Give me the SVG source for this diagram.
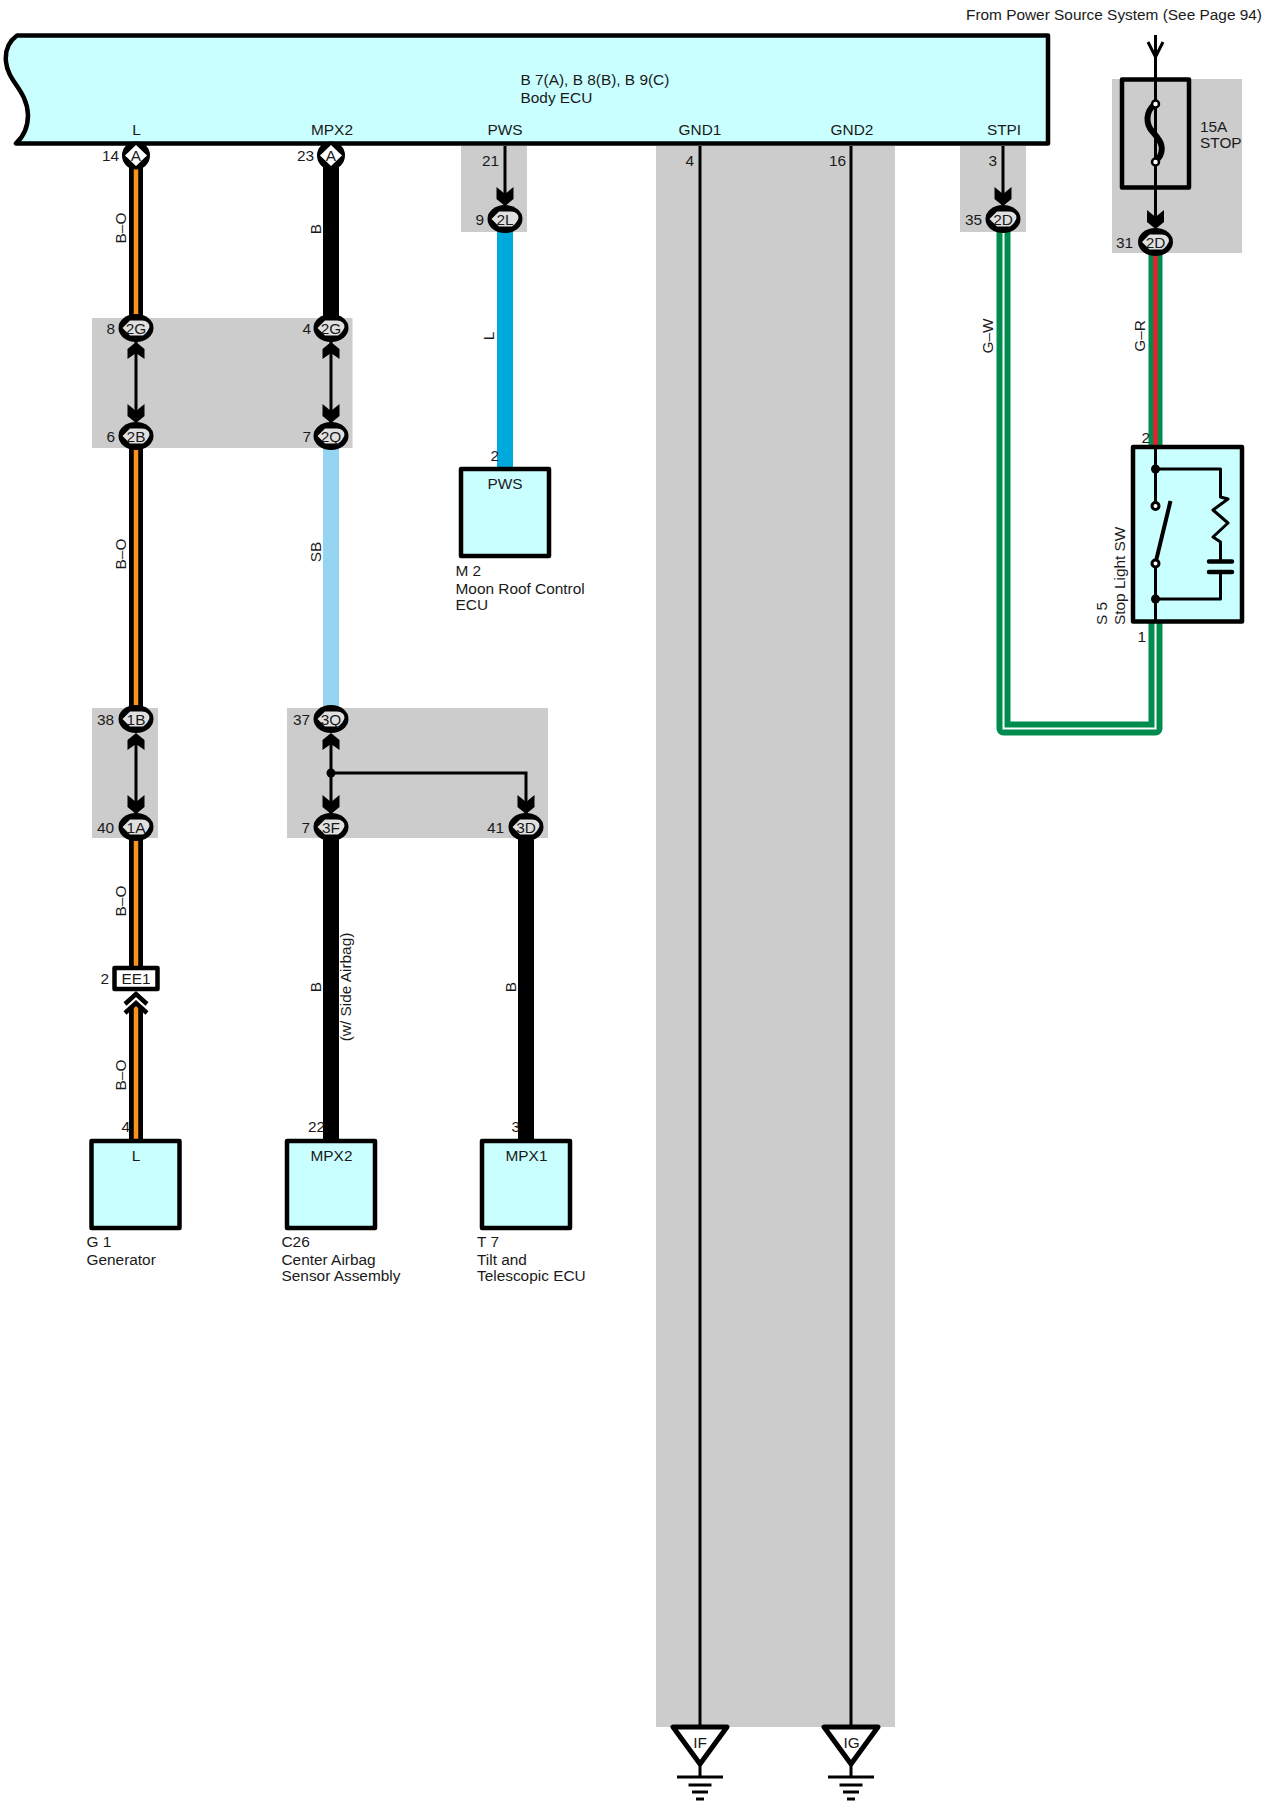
<svg xmlns="http://www.w3.org/2000/svg" width="1270" height="1801" viewBox="0 0 1270 1801">
<style>
text{font-family:"Liberation Sans",Arial,sans-serif;font-size:15.4px;fill:#1a1a1a}
.m{text-anchor:middle}.e{text-anchor:end}
.g{fill:#ccc}
.box{fill:#c9ffff;stroke:#000;stroke-width:4.5;stroke-linejoin:round}
.w{fill:none;stroke:#000;stroke-width:3}
.blk{stroke:#000;stroke-width:16;fill:none}
.blk14{stroke:#000;stroke-width:14;fill:none}
.or{stroke:#f7931e;stroke-width:4.500;fill:none}
.sb{stroke:#96d5f2;stroke-width:16;fill:none}
.lb{stroke:#00a9dc;stroke-width:16;fill:none}
.gr{stroke:#008c4f;stroke-width:14;fill:none;stroke-linejoin:round}
.wh{stroke:#fff;stroke-width:2;fill:none}
.re{stroke:#e8202c;stroke-width:4.5;fill:none}
</style>
<defs>
<path id="ad" d="M-8.5-19L0-12L8.500-19V-7L0 0L-8.500-7Z" fill="#000"/>
<path id="au" d="M-8.500 17L0 11L8.500 17V7L0 0L-8.500 7Z" fill="#000"/>
<g id="oval"><ellipse rx="17.500" ry="14" fill="#000"/><path d="M-13.500 0L-6-7.500H6Q13.500-7 13.500-1Q12 4 7 7.500H-6Z" fill="#e0e0e0"/></g>
<g id="gnd"><path d="M-27 0H27L0 37Z" fill="#fff" stroke="#000" stroke-width="5" stroke-linejoin="round"/><path d="M0 37V50M-23 50H23M-11.500 58H11.500M-8 65H8M-4 72H4" stroke="#000" stroke-width="3" fill="none"/></g>
</defs>
<g id="shaded">
<rect class="g" x="461" y="146" width="66" height="86"/>
<rect class="g" x="960" y="146" width="66" height="86"/>
<rect class="g" x="1112" y="79" width="130" height="174"/>
<rect class="g" x="92" y="318" width="260.500" height="130"/>
<rect class="g" x="92" y="708" width="66" height="130"/>
<rect class="g" x="287" y="708" width="261" height="130"/>
<rect class="g" x="656" y="146" width="239" height="1581"/>
</g>
<g id="connectors">
<path class="blk14" d="M136 160V320M136 442V715M136 835V968M136 1006V1140"/><path class="or" d="M136 169V320M136 442V715M136 835V968M136 1006V1140"/>
<path class="w" d="M136 340V425M136 735V815"/>
<path class="blk" d="M331 155V320"/><path class="w" d="M331 340V425"/><path class="sb" d="M331 445V712"/>
<path class="w" d="M331 735V815M331 773H526V815"/><circle cx="331" cy="773" r="4.500"/>
<path class="blk" d="M331 835V1140M526 835V1140"/>
<path class="w" d="M505 146V205"/><path class="lb" d="M505 230V470"/>
<path class="w" d="M700 146V1727M851 146V1727"/>
<path class="w" d="M1003 146V205"/>
<path class="gr" d="M1003.500 228V728.500H1155.500V622"/><path class="wh" d="M1003.500 228V728.500H1155.500V622"/>
<path class="w" d="M1155.500 35V228"/>
<path class="gr" d="M1155.500 250V447"/><path class="re" d="M1155.500 250V447"/>
<path d="M1148 42L1155.500 57L1163 42" fill="none" stroke="#000" stroke-width="3"/>
<use href="#au" x="136" y="342"/><use href="#ad" x="136" y="423"/>
<use href="#au" x="331" y="342"/><use href="#ad" x="331" y="423"/>
<use href="#au" x="136" y="733"/><use href="#ad" x="136" y="814"/>
<use href="#au" x="331" y="733"/><use href="#ad" x="331" y="814"/><use href="#ad" x="526" y="814"/>
<use href="#ad" x="505" y="206"/><use href="#ad" x="1003" y="206"/><use href="#ad" x="1155.500" y="229"/>
<path d="M125 1004L136 994L147 1004M125 1013L136 1003L147 1013" fill="none" stroke="#000" stroke-width="4.500"/>
</g>
<g id="body-ecu">
<path class="box" d="M1048 35.500H17C8 42 5 52 6 62C8 82 27 90 28 115C28 128 24 136 16 143.500H1048Z"/>
<text x="520.500" y="85">B 7(A), B 8(B), B 9(C)</text>
<text x="520.500" y="103">Body ECU</text>
<text class="m" x="136.500" y="135">L</text><text class="m" x="332" y="135">MPX2</text><text class="m" x="505" y="135">PWS</text>
<text class="m" x="700" y="135">GND1</text><text class="m" x="852" y="135">GND2</text><text class="m" x="1004" y="135">STPI</text>
<text class="e" x="119" y="161">14</text><text class="e" x="314" y="161">23</text><text class="e" x="499" y="166">21</text>
<text class="e" x="694" y="166">4</text><text class="e" x="846" y="166">16</text><text class="e" x="997" y="166">3</text>
</g>
<g id="pins">
<g id="c14"><circle cx="136" cy="155.500" r="14" fill="#000"/><path d="M136 145L147 155.500L136 166L125 155.500Z" fill="#fff"/><text class="m" x="136" y="161">A</text></g>
<g id="c23"><circle cx="331" cy="155.500" r="14" fill="#000"/><path d="M331 145L342 155.500L331 166L320 155.500Z" fill="#fff"/><text class="m" x="331" y="161">A</text></g>
<g id="c2g8"><use href="#oval" x="136" y="328"/><text class="m" x="136" y="334">2G</text><text class="e" x="115" y="334">8</text></g>
<g id="c2g4"><use href="#oval" x="331" y="328"/><text class="m" x="331" y="334">2G</text><text class="e" x="311" y="334">4</text></g>
<g id="c2b"><use href="#oval" x="136" y="436"/><text class="m" x="136" y="442">2B</text><text class="e" x="115" y="442">6</text></g>
<g id="c2q"><use href="#oval" x="331" y="436"/><text class="m" x="331" y="442">2Q</text><text class="e" x="311" y="442">7</text></g>
<g id="c1b"><use href="#oval" x="136" y="719"/><text class="m" x="136" y="725">1B</text><text class="e" x="114" y="725">38</text></g>
<g id="c3q"><use href="#oval" x="331" y="719"/><text class="m" x="331" y="725">3Q</text><text class="e" x="310" y="725">37</text></g>
<g id="c1a"><use href="#oval" x="136" y="827"/><text class="m" x="136" y="833">1A</text><text class="e" x="114" y="833">40</text></g>
<g id="c3f"><use href="#oval" x="331" y="827"/><text class="m" x="331" y="833">3F</text><text class="e" x="310" y="833">7</text></g>
<g id="c3d"><use href="#oval" x="526" y="827"/><text class="m" x="526" y="833">3D</text><text class="e" x="504" y="833">41</text></g>
<g id="c2l"><use href="#oval" x="505" y="219"/><text class="m" x="505" y="225">2L</text><text class="e" x="484" y="225">9</text></g>
<g id="c2d35"><use href="#oval" x="1003" y="219"/><text class="m" x="1003" y="225">2D</text><text class="e" x="982" y="225">35</text></g>
<g id="c2d31"><use href="#oval" x="1155.500" y="242"/><text class="m" x="1155.500" y="248">2D</text><text class="e" x="1133" y="248">31</text></g>
</g>
<g id="g1"><rect class="box" x="91.500" y="1141" width="88" height="87"/><text class="m" x="136" y="1161">L</text><text x="86.500" y="1247">G 1</text><text x="86.500" y="1265">Generator</text><text class="e" x="130" y="1132">4</text></g>
<g id="ee1"><rect x="114.500" y="968" width="43" height="21" fill="#fff" stroke="#000" stroke-width="4.500" stroke-linejoin="round"/><text class="m" x="136" y="984">EE1</text><text class="e" x="109" y="984">2</text></g>
<g id="c26"><rect class="box" x="287" y="1141" width="88" height="87"/><text class="m" x="331.500" y="1161">MPX2</text><text x="281.500" y="1247">C26</text><text x="281.500" y="1265">Center Airbag</text><text x="281.500" y="1281">Sensor Assembly</text><text class="e" x="325" y="1132">22</text></g>
<g id="t7"><rect class="box" x="482" y="1141" width="88" height="87"/><text class="m" x="526.500" y="1161">MPX1</text><text x="477" y="1247">T 7</text><text x="477" y="1265">Tilt and</text><text x="477" y="1281">Telescopic ECU</text><text class="e" x="520" y="1132">3</text></g>
<g id="m2"><rect class="box" x="461" y="469" width="88" height="87"/><text class="m" x="505" y="489">PWS</text><text x="455.500" y="576">M 2</text><text x="455.500" y="594">Moon Roof Control</text><text x="455.500" y="610">ECU</text><text class="e" x="499" y="461">2</text></g>
<g id="fuse"><rect x="1122" y="79.500" width="67" height="108" fill="none" stroke="#000" stroke-width="4.500" stroke-linejoin="round"/><path d="M1155 104C1145 112 1146 124 1152 131C1159 139 1165 146 1160 156L1155.500 162" fill="none" stroke="#000" stroke-width="6"/><circle cx="1155.500" cy="104" r="3.500" fill="#fff" stroke="#000" stroke-width="2.500"/><circle cx="1155.500" cy="162" r="3.500" fill="#fff" stroke="#000" stroke-width="2.500"/><text x="1200" y="132">15A</text><text x="1200" y="148">STOP</text></g>
<g id="s5"><rect class="box" x="1133" y="447" width="109" height="174.500"/>
<path class="w" d="M1155.500 447V503M1155.500 566V622M1155.500 469H1220.500V497L1228 499L1213 510L1228 523L1213 537L1220.500 542V561M1220.500 572V599H1155.500" stroke-linejoin="round"/>
<path d="M1170.500 501L1155.500 563" stroke="#000" stroke-width="4" fill="none"/>
<path d="M1209 561.500H1232M1209 572H1232" stroke="#000" stroke-width="4.500" stroke-linecap="round"/>
<circle cx="1155.500" cy="469" r="4.500"/><circle cx="1155.500" cy="599" r="4.500"/>
<circle cx="1155.500" cy="506" r="3.500" fill="#fff" stroke="#000" stroke-width="3"/><circle cx="1155.500" cy="563.500" r="3.500" fill="#fff" stroke="#000" stroke-width="3"/>
<text class="e" x="1150" y="443">2</text><text class="e" x="1146" y="642">1</text>
<text transform="translate(1124.500 625) rotate(-90)">Stop Light SW</text><text transform="translate(1107 625) rotate(-90)">S 5</text></g>
<g id="if"><use href="#gnd" x="700" y="1727"/><text class="m" x="700" y="1748">IF</text></g>
<g id="ig"><use href="#gnd" x="851" y="1727"/><text class="m" x="851.500" y="1748">IG</text></g>
<g id="labels">
<text class="m" transform="translate(126 228) rotate(-90)">B–O</text>
<text class="m" transform="translate(126 554) rotate(-90)">B–O</text>
<text class="m" transform="translate(126 901) rotate(-90)">B–O</text>
<text class="m" transform="translate(126 1075) rotate(-90)">B–O</text>
<text class="m" transform="translate(321 229) rotate(-90)">B</text>
<text class="m" transform="translate(321 552) rotate(-90)">SB</text>
<text class="m" transform="translate(321 987) rotate(-90)">B</text>
<text class="m" transform="translate(351 987) rotate(-90)">(w/ Side Airbag)</text>
<text class="m" transform="translate(516 987) rotate(-90)">B</text>
<text class="m" transform="translate(494 336) rotate(-90)">L</text>
<text class="m" transform="translate(993 336) rotate(-90)">G–W</text>
<text class="m" transform="translate(1145 336) rotate(-90)">G–R</text>
<text x="966" y="20">From Power Source System (See Page 94)</text>
</g>
</svg>
